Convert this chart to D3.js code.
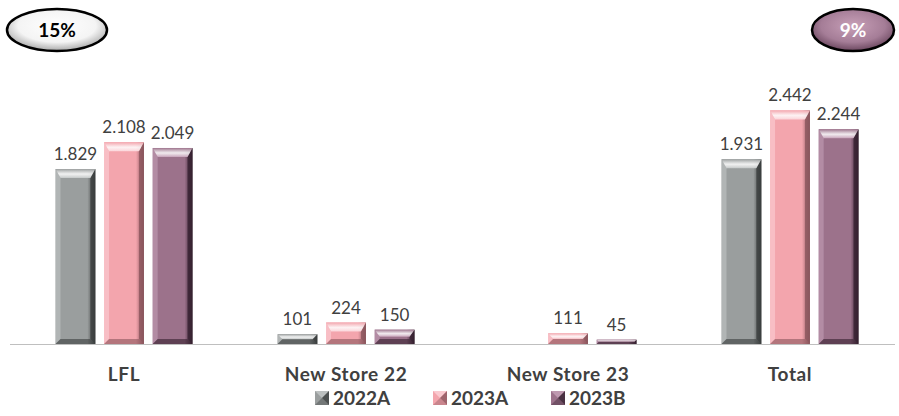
<!DOCTYPE html>
<html>
<head>
<meta charset="utf-8">
<script src="https://cdn.jsdelivr.net/npm/d3@7"></script>
<style>
  html, body { margin: 0; padding: 0; background: #fff; }
  svg { display: block; font-family: Lato, "Open Sans", sans-serif; }
</style>
</head>
<body>
<svg id="chart" width="899" height="416"></svg>
<script>
// Revenue by store cluster (values in thousands, shown with dot as thousands separator)
const categories = ["LFL", "New Store 22", "New Store 23", "Total"];
const seriesNames = ["2022A", "2023A", "2023B"];
const values2022A = [1829, 101, 0, 1931];
const values2023A = [2108, 224, 111, 2442];
const values2023B = [2049, 150, 45, 2244];
const bubbleLabels = ["15%", "9%"];

const seriesValues = [values2022A, values2023A, values2023B];
const colors = [
  { base: "#9a9e9e", light: "#c4c8c8", dark: "#3a3d3d" },
  { base: "#f3a5ad", light: "#fbd3d8", dark: "#8a555c" },
  { base: "#9c728b", light: "#c7a2b9", dark: "#35202f" }
];

const svg = d3.select("#chart");
const baseY = 344;
const groupW = 137;

const x0 = d3.scaleBand().domain(categories).range([13, 901]);
const x1 = d3.scaleBand().domain(seriesNames).range([0, groupW]).paddingInner(0.18);
const y = d3.scaleLinear().domain([0, 3000]).range([baseY, baseY - 287]);

const defs = svg.append("defs");
colors.forEach((c, i) => {
  const g = defs.append("linearGradient").attr("id", "body" + i).attr("x1", 0).attr("x2", 1).attr("y1", 0).attr("y2", 0);
  g.append("stop").attr("offset", "0").attr("stop-color", c.base);
  g.append("stop").attr("offset", "0.3").attr("stop-color", c.base);
  g.append("stop").attr("offset", "0.8").attr("stop-color", c.base);
  g.append("stop").attr("offset", "1").attr("stop-color", c.dark);
  const t = defs.append("linearGradient").attr("id", "top" + i).attr("x1", 0).attr("x2", 0).attr("y1", 0).attr("y2", 1);
  t.append("stop").attr("offset", "0").attr("stop-color", c.base);
  t.append("stop").attr("offset", "0.55").attr("stop-color", "#ffffff").attr("stop-opacity", 0.85);
  t.append("stop").attr("offset", "1").attr("stop-color", c.light);
});
const ellW = defs.append("radialGradient").attr("id", "ellWhite").attr("cx", 0.5).attr("cy", 0.4).attr("r", 0.6);
ellW.append("stop").attr("offset", "0").attr("stop-color", "#ffffff");
ellW.append("stop").attr("offset", "0.65").attr("stop-color", "#f4f4f4");
ellW.append("stop").attr("offset", "1").attr("stop-color", "#a8a8a8");
const ellP = defs.append("radialGradient").attr("id", "ellPurple").attr("cx", 0.5).attr("cy", 0.4).attr("r", 0.6);
ellP.append("stop").attr("offset", "0").attr("stop-color", "#c8a0b8");
ellP.append("stop").attr("offset", "0.65").attr("stop-color", "#a57d97");
ellP.append("stop").attr("offset", "1").attr("stop-color", "#6a465e");

// Axis baseline
svg.append("line").attr("x1", 10).attr("x2", 895).attr("y1", baseY + 0.5).attr("y2", baseY + 0.5)
  .attr("stroke", "#bfbfbf").attr("stroke-width", 1);

// Bars with bevelled edges
const groups = svg.append("g").selectAll("g").data(categories).join("g")
  .attr("transform", d => `translate(${x0(d) + (x0.bandwidth() - groupW) / 2},0)`);

groups.each(function(cat, ci) {
  const g = d3.select(this);
  seriesNames.forEach((s, si) => {
    const v = seriesValues[si][ci];
    if (v <= 0) return;
    const c = colors[si];
    const bx = x1(s), bw = x1.bandwidth();
    const top = y(v), h = baseY - top;
    const bev = Math.min(9, h / 2);
    const sb = Math.min(5, h / 2);
    g.append("rect").attr("x", bx).attr("y", top).attr("width", bw).attr("height", h)
      .attr("fill", `url(#body${si})`);
    // left edge
    g.append("path")
      .attr("d", `M${bx},${top}L${bx + sb},${top + bev}L${bx + sb},${baseY - sb}L${bx},${baseY}Z`)
      .attr("fill", c.light).attr("opacity", 0.55);
    // right edge
    g.append("path")
      .attr("d", `M${bx + bw},${top}L${bx + bw - sb},${top + bev}L${bx + bw - sb},${baseY - sb}L${bx + bw},${baseY}Z`)
      .attr("fill", c.dark).attr("opacity", 0.8);
    // top cap
    g.append("path")
      .attr("d", `M${bx},${top}L${bx + bw},${top}L${bx + bw - sb},${top + bev}L${bx + sb},${top + bev}Z`)
      .attr("fill", `url(#top${si})`);
    // bottom edge
    g.append("path")
      .attr("d", `M${bx},${baseY}L${bx + sb},${baseY - sb}L${bx + bw - sb},${baseY - sb}L${bx + bw},${baseY}Z`)
      .attr("fill", c.dark).attr("opacity", 0.6);
    g.append("text").attr("x", bx + bw / 2).attr("y", top - 9)
      .attr("text-anchor", "middle").attr("font-size", 17).attr("fill", "#404040")
      .text(d3.format(",")(v).replace(/,/g, "."));
  });
});

// Category labels
svg.append("g").selectAll("text").data(categories).join("text")
  .attr("x", d => x0(d) + x0.bandwidth() / 2).attr("y", 381)
  .attr("text-anchor", "middle").attr("font-size", 19).attr("font-weight", "bold")
  .attr("letter-spacing", 0.6).attr("fill", "#404040")
  .text(d => d);

// Legend
const legendX = [315, 433, 551];
const leg = svg.append("g").selectAll("g").data(seriesNames).join("g")
  .attr("transform", (d, i) => `translate(${legendX[i]},391)`);
leg.append("rect").attr("width", 14).attr("height", 14).attr("fill", (d, i) => colors[i].base);
leg.append("path").attr("d", "M0,0L14,0L7,7Z").attr("fill", (d, i) => colors[i].light).attr("opacity", 0.8);
leg.append("path").attr("d", "M14,0L14,14L7,7Z").attr("fill", (d, i) => colors[i].dark).attr("opacity", 0.8);
leg.append("path").attr("d", "M0,14L14,14L7,7Z").attr("fill", (d, i) => colors[i].dark).attr("opacity", 0.4);
leg.append("text").attr("x", 18).attr("y", 14).attr("font-size", 19).attr("font-weight", "bold")
  .attr("fill", "#404040").text(d => d);

// Growth bubbles
const bubbles = [
  { cx: 57, cy: 30, rx: 50, ry: 21, fill: "url(#ellWhite)", color: "#000", text: bubbleLabels[0] },
  { cx: 853, cy: 30, rx: 41, ry: 21, fill: "url(#ellPurple)", color: "#fff", text: bubbleLabels[1] }
];
const b = svg.append("g").selectAll("g").data(bubbles).join("g");
b.append("ellipse").attr("cx", d => d.cx).attr("cy", d => d.cy).attr("rx", d => d.rx).attr("ry", d => d.ry)
  .attr("fill", d => d.fill).attr("stroke", "#000").attr("stroke-width", 2.5);
b.append("text").attr("x", d => d.cx).attr("y", d => d.cy + 7).attr("text-anchor", "middle")
  .attr("font-size", 19).attr("font-weight", "bold").attr("fill", d => d.color).text(d => d.text);
</script>
</body>
</html>
